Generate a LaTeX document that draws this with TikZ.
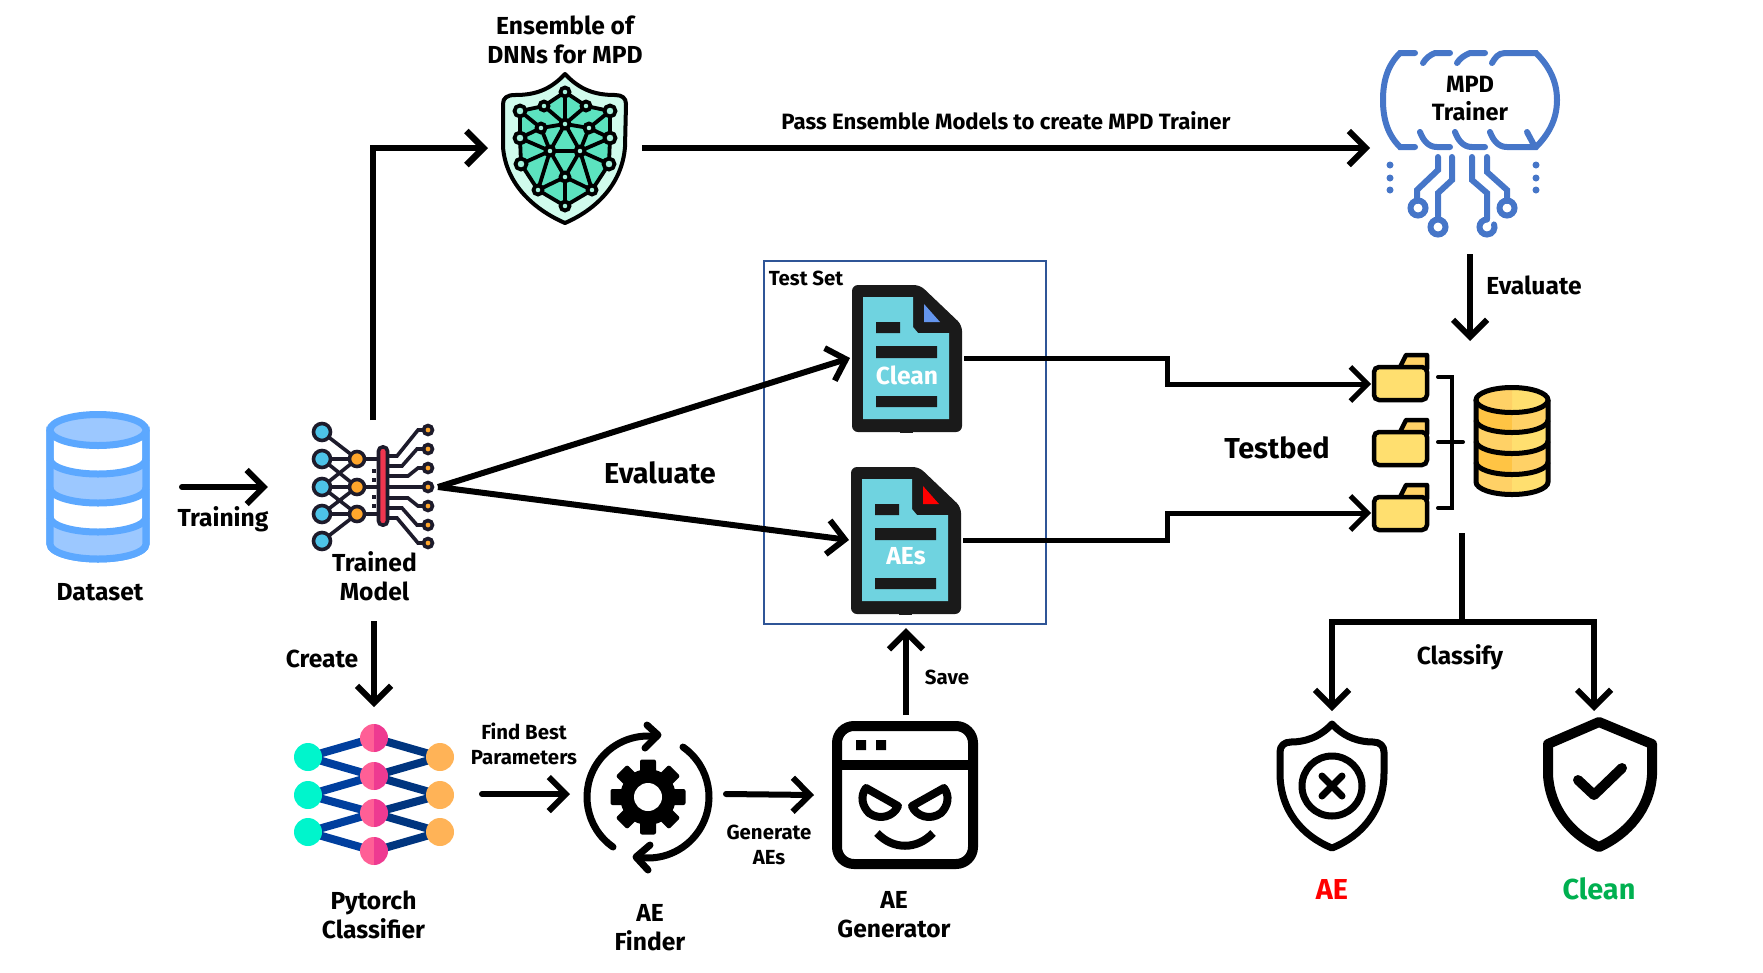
\documentclass[tikz,border=0pt]{standalone}
\usepackage{fontspec}
\setmainfont{Fira Sans}
\usetikzlibrary{arrows.meta}
\definecolor{dbblue}{HTML}{5CA8FF}
\definecolor{dblight}{HTML}{9CC8FF}
\definecolor{netdark}{HTML}{1D1B2B}
\definecolor{netcyan}{HTML}{4DC3E8}
\definecolor{netorange}{HTML}{FFA62B}
\definecolor{netred}{HTML}{F0364F}
\definecolor{ensteal}{HTML}{5CE3BF}
\definecolor{enslight}{HTML}{D0FBEC}
\definecolor{trainblue}{HTML}{4676C8}
\definecolor{docdark}{HTML}{1A1A1A}
\definecolor{doccyan}{HTML}{6FD3E0}
\definecolor{docblue}{HTML}{6495ED}
\definecolor{boxblue}{HTML}{2F5597}
\definecolor{goldA}{HTML}{FFC444}
\definecolor{goldB}{HTML}{FFD166}
\definecolor{goldC}{HTML}{FFDF6F}
\definecolor{clfteal}{HTML}{00F5CC}
\definecolor{clfnavy}{HTML}{003F9E}
\definecolor{clfnavyb}{HTML}{00357F}
\definecolor{clfpink}{HTML}{FF5F96}
\definecolor{clfpinkb}{HTML}{EE3A91}
\definecolor{clforange}{HTML}{FFB357}
\definecolor{cleangreen}{HTML}{00B050}
\tikzset{
  arr/.style={line width=.06cm,-{Straight Barb[length=.17cm,width=.34cm]}},
  iconbox/.style 2 args={inner sep=0,outer sep=0,minimum width=#1*.01cm,minimum height=#2*.01cm},
  lbl/.style={inner sep=0,align=center,font=\bfseries\fontsize{7}{8.2}\selectfont},
  lblsm/.style={inner sep=0,align=center,font=\bfseries\fontsize{5.8}{6.9}\selectfont},
  lbllg/.style={inner sep=0,align=center,font=\bfseries\fontsize{8.2}{9.5}\selectfont},
}
\newcommand\docicon[2]{%
  \begin{scope}[shift={(#1)}]
    \fill[docdark,rounded corners=.06cm] (0,0)--(68,0)--(110,40)--(110,147)--(0,147)--cycle;
    \fill[docdark] (48,146) rectangle (61,148);
    \fill[doccyan] (11,12)--(61,12)--(61,42)--(66,48)--(97,48)--(97,134)--(11,134)--cycle;
    \fill[#2] (72,19)--(72,37)--(88,37)--cycle;
    \fill[docdark] (24,37) rectangle (48,48) (24,61) rectangle (85,73) (24,111) rectangle (85,122);
  \end{scope}}
\newcommand\foldericon[1]{%
  \begin{scope}[shift={(#1)}]
    \draw[line width=.045cm,fill=goldB,line join=round] (27,16)--(34,2)--(55,2)--(55,16)--cycle;
    \draw[line width=.045cm,fill=goldC,rounded corners=.05cm] (2,14) rectangle (55,47);
  \end{scope}}
\begin{document}
\begin{tikzpicture}[x=.01cm,y=-.01cm]
  \useasboundingbox (0,0) rectangle (1763,972);
  % icon boxes, the connectors end on these
  \node[iconbox={168}{152}] (dataset) at (98,487) {};
  \node[iconbox={130}{134}] (trained) at (373,487) {};
  \node[iconbox={154}{150}] (ensemble) at (565,148) {};
  \node[iconbox={200}{212}] (trainer) at (1470,148) {};
  \node[iconbox={114}{148}] (cleandoc) at (907,358) {};
  \node[iconbox={114}{148}] (aesdoc) at (906,540) {};
  \node[draw=boxblue,line width=.02cm,iconbox={282}{363}] (testset) at (905,442.5) {};
  \node[iconbox={216}{174}] (classifier) at (374,794) {};
  \node[iconbox={156}{150}] (finder) at (648,794) {};
  \node[iconbox={184}{160}] (generator) at (906,795) {};
  \node[iconbox={58}{50}] (foldera) at (1400,384) {};
  \node[iconbox={58}{50}] (folderc) at (1400,513) {};
  \node[iconbox={190}{192}] (testbed) at (1462,437) {};
  \node[iconbox={112}{150}] (aeshield) at (1332,786) {};
  \node[iconbox={112}{148}] (cleanshield) at (1594,785) {};
  \coordinate (createstart) at (374,621);
  \coordinate (bendclean) at (1167,358);
  \coordinate (bendaes) at (1167,540);
  \coordinate (split) at (1462,622);

  % dataset
  \draw[dbblue,line width=.07cm,fill=white] (50,430)--(50,544) arc[start angle=180,end angle=0,x radius=48,y radius=15]--(146,430)--cycle;
  \foreach \a/\b in {459/488,517/544}
    \fill[dblight] (50,\a) arc[start angle=180,end angle=0,x radius=48,y radius=15]--(146,\b) arc[start angle=0,end angle=180,x radius=48,y radius=15]--cycle;
  \foreach \a in {459,488,517}
    \draw[dbblue,line width=.07cm] (50,\a) arc[start angle=180,end angle=0,x radius=48,y radius=15];
  \draw[dbblue,line width=.07cm] (50,430)--(50,544) arc[start angle=180,end angle=0,x radius=48,y radius=15]--(146,430);
  \draw[dbblue,line width=.07cm,fill=dblight] (98,430) ellipse [x radius=48,y radius=15.5];

  % trained model
  \begin{scope}[netdark,line width=.036cm]
    \draw (322,432)--(357,459) (322,459)--(357,459) (322,459)--(357,487) (322,487)--(357,459)
      (322,487)--(357,487) (322,487)--(357,514) (322,514)--(357,487) (322,514)--(357,514) (322,541)--(357,514);
    \draw (357,459)--(383,459) (357,487)--(383,487) (357,514)--(383,514);
    \draw (383,456)--(397,456)--(418,430)--(428,430) (383,466)--(402,466)--(417,449)--(428,449)
      (383,476)--(408,476)--(418,468)--(428,468) (383,487)--(428,487)
      (383,498)--(408,498)--(418,506)--(428,506) (383,508)--(402,508)--(417,525)--(428,525)
      (383,518)--(397,518)--(418,543)--(428,543);
    \foreach \y in {432,459,487,514,541} \draw[fill=netcyan] (322,\y) circle (8.5);
    \foreach \y in {459,487,514} \draw[fill=netorange] (357,\y) circle (7.5);
    \foreach \y in {430,449,468,487,506,525,543} \draw[fill=netorange] (428,\y) circle (4.5);
    \draw[fill=netred,rounded corners=.04cm] (378.5,447) rectangle (387.5,525);
    \foreach \y in {469,478,495,504} \fill (372,\y) rectangle +(4,4);
  \end{scope}

  % ensemble shield
  \draw[line width=.04cm,fill=enslight,line join=round] (565,74) .. controls (580,90) and (595,95) .. (615,95)
    .. controls (622,95) and (626,98) .. (626,104) -- (625,147) .. controls (622,185) and (595,210) .. (565,223)
    .. controls (535,210) and (506,185) .. (503,147) -- (503,104) .. controls (503,98) and (507,95) .. (515,95)
    .. controls (535,95) and (550,90) .. (565,74) -- cycle;
  \foreach \n/\x/\y in {a/565/92,b/544/106,c/586/106,d/520/111,e/610/111,f/565/124,g/541/128,h/589/128,i/520/138,j/610/138,k/550/151,l/580/151,m/521/164,n/609/164,o/565/177,p/538/190,q/592/190,r/565/206}
    \coordinate (e\n) at (\x,\y);
  \fill[ensteal] (ea)--(ec)--(ee)--(ej)--(en)--(eq)--(er)--(ep)--(em)--(ei)--(ed)--(eb)--cycle;
  \draw[line width=.038cm] (ea)--(eb) (ea)--(ec) (ea)--(ef) (eb)--(ed) (ec)--(ee) (eb)--(ef) (ec)--(ef) (ed)--(eg) (ee)--(eh)
    (ed)--(ei) (ee)--(ej) (ei)--(eg) (ej)--(eh) (eg)--(ef) (eh)--(ef) (eg)--(ek) (eh)--(el) (ef)--(ek) (ef)--(el) (ei)--(ek) (ej)--(el)
    (ek)--(el) (ek)--(em) (el)--(en) (ek)--(eo) (el)--(eo) (eo)--(ep) (eo)--(eq) (eo)--(er) (ep)--(er) (eq)--(er) (em)--(ei) (en)--(ej)
    (ek)--(ep) (el)--(eq) (em)--(ep) (en)--(eq);
  \foreach \n in {a,b,c,f,g,h,k,l,o,p,q,r} \draw[line width=.038cm,fill=enslight!60!ensteal] (e\n) circle (4.5);
  \foreach \n in {d,e,i,j,m,n} \draw[line width=.038cm,fill=enslight!60!ensteal] (e\n) circle (5.5);

  % mpd trainer
  \begin{scope}[trainblue,line width=.06cm,line cap=round]
    \draw (1415,53)--(1400,53) .. controls (1388,65) and (1383,80) .. (1383,100) .. controls (1383,120) and (1388,135) .. (1400,147)--(1415,147);
    \draw (1450,53)--(1435,53) .. controls (1430,55) and (1426,58) .. (1423,63);
    \draw (1420,132) .. controls (1423,140) and (1428,147) .. (1437,147)--(1450,147);
    \draw (1485,53)--(1470,53) .. controls (1465,55) and (1460,58) .. (1457,63);
    \draw (1455,132) .. controls (1458,140) and (1463,147) .. (1472,147)--(1485,147);
    \draw (1492,63) .. controls (1495,58) and (1498,53) .. (1505,53)--(1536,53) .. controls (1548,65) and (1557,80) .. (1557,100)
      .. controls (1557,120) and (1548,135) .. (1536,147)--(1507,147) .. controls (1498,147) and (1493,140) .. (1490,132);
    \draw (1527,132)--(1535,147);
    \draw (1438,157)--(1438,170)--(1417,190)--(1417,201);
    \draw (1452,157)--(1452,180)--(1438,193)--(1438,219);
    \draw (1472,157)--(1472,180)--(1487,193)--(1487,219);
    \draw (1487,157)--(1487,172)--(1507,190)--(1507,201);
    \draw (1418,208) circle (7.5) (1438,227) circle (7.5) (1507,208) circle (7.5);
    \draw (1487,219.5) arc[start angle=270,end angle=-20,radius=7.5];
    \foreach \y in {165,178,190} \fill (1390,\y) circle (3.5) (1536,\y) circle (3.5);
  \end{scope}

  % test set
  \docicon{852,285}{docblue}
  \docicon{851,467}{red}

  % testbed
  \foldericon{1372,353}
  \foldericon{1372,418}
  \foldericon{1372,483}
  \draw[line width=.04cm,line cap=round] (1438,377)--(1452,377)--(1452,508)--(1438,508) (1438,442)--(1463,442);
  \def\rx{36}\def\ry{12.5}
  \foreach \a/\b/\cl/\cr in {400/420/goldA/goldB,420/441/goldB/goldC,441/462/goldA/goldB,462/482/goldB/goldC} {
    \fill[\cl] (1476,\a) arc[start angle=180,end angle=90,x radius=\rx,y radius=\ry]--(1512,\b+\ry) arc[start angle=90,end angle=180,x radius=\rx,y radius=\ry]--cycle;
    \fill[\cr] (1548,\a) arc[start angle=0,end angle=90,x radius=\rx,y radius=\ry]--(1512,\b+\ry) arc[start angle=90,end angle=0,x radius=\rx,y radius=\ry]--cycle;
  }
  \foreach \a in {420,441,462}
    \draw[line width=.05cm] (1476,\a) arc[start angle=180,end angle=0,x radius=\rx,y radius=\ry];
  \begin{scope}
    \clip (1512,380) rectangle (1560,420);
    \fill[goldC] (1512,400) ellipse [x radius=\rx,y radius=\ry];
  \end{scope}
  \begin{scope}
    \clip (1470,380) rectangle (1512,420);
    \fill[goldB] (1512,400) ellipse [x radius=\rx,y radius=\ry];
  \end{scope}
  \draw[line width=.05cm] (1512,400) ellipse [x radius=\rx,y radius=\ry];
  \draw[line width=.05cm] (1476,400)--(1476,482) arc[start angle=180,end angle=0,x radius=\rx,y radius=\ry]--(1548,400);

  % classifier
  \foreach \y/\m/\n in {757/738/776,795/776/813,832/813/851} {
    \draw[clfnavy,line width=.08cm] (308,\y)--(374,\m) (308,\y)--(374,\n);
    \draw[clfnavyb,line width=.08cm] (440,\y)--(374,\m) (440,\y)--(374,\n);
    \fill[clfteal] (308,\y) circle (14);
    \fill[clforange] (440,\y) circle (14);
  }
  \foreach \m in {738,776,813,851} {
    \fill[clfpink] (374,\m-14) arc[start angle=270,end angle=90,radius=14]--cycle;
    \fill[clfpinkb] (374,\m-14) arc[start angle=-90,end angle=90,radius=14]--cycle;
  }

  % finder
  \draw[line width=.07cm,line cap=round] (648,797) ++(125:61) arc[start angle=125,end angle=278,radius=61];
  \draw[line width=.07cm,line cap=round] (648,797) ++(-55:61) arc[start angle=-55,end angle=100,radius=61];
  \draw[line width=.07cm,line cap=round,line join=round] (647,725)--(658,735)--(645,748) (650,845)--(636,857)--(648,870);
  \fill (648,797) circle (28);
  \foreach \a in {0,45,90,135}
    \fill[rotate around={\a:(648,797)},rounded corners=.02cm] (640,759.5) rectangle (656,834.5);
  \fill[white] (648,797) circle (14);

  % generator
  \draw[line width=.1cm,rounded corners=.17cm] (837,726) rectangle (973,864);
  \draw[line width=.1cm] (837,765)--(973,765);
  \fill (856,740) rectangle (866,750) (876,740) rectangle (886,750);
  \draw[line width=.08cm,line join=round] (866,788)--(898,806) .. controls (894,816) and (880,821) .. (869,813) .. controls (862,806) and (860,796) .. (866,788)--cycle;
  \draw[line width=.08cm,line join=round] (944,788)--(912,806) .. controls (916,816) and (930,821) .. (941,813) .. controls (948,806) and (950,796) .. (944,788)--cycle;
  \draw[line width=.08cm] (877,833) .. controls (893,850) and (917,850) .. (933,833);

  % shields
  \draw[line width=.07cm,line join=round] (1332,724) .. controls (1345,738) and (1360,742) .. (1373,742)
    .. controls (1380,742) and (1384,746) .. (1384,752) -- (1384,773) .. controls (1384,810) and (1362,836) .. (1332,848)
    .. controls (1302,836) and (1280,810) .. (1280,773) -- (1280,752) .. controls (1280,746) and (1284,742) .. (1291,742)
    .. controls (1304,742) and (1319,738) .. (1332,724) -- cycle;
  \draw[line width=.07cm] (1332,786) circle (30);
  \draw[line width=.07cm,line cap=round] (1322,776)--(1342,796) (1342,776)--(1322,796);
  \draw[line width=.1cm,line join=round] (1599,722)--(1652,744)--(1652,775) .. controls (1650,808) and (1628,834) .. (1599,847)
    .. controls (1570,834) and (1550,808) .. (1548,775)--(1548,744)--cycle;
  \draw[line width=.1cm,line cap=round,line join=round] (1578,780)--(1594,795)--(1622,768);

  % connectors
  \draw[arr,line cap=round,shorten >=.4cm] (dataset.east)--(trained.west);
  \draw[arr,line width=.065cm] (trained.north) |- (ensemble.west);
  \draw[arr] (ensemble.east)--(trainer.west);
  \draw[arr] (trainer.south)--(trainer.south |- testbed.north);
  \draw[arr] (trained.east)--(cleandoc.west);
  \draw[arr] (trained.east)--(aesdoc.west);
  \draw[arr,line width=.05cm] (cleandoc.east)--(bendclean) |- (foldera.west);
  \draw[arr,line width=.05cm] (aesdoc.east)--(bendaes) |- (folderc.west);
  \draw[arr] (createstart)--(classifier.north);
  \draw[arr,line cap=round] (classifier.east)--(finder.west);
  \draw[arr,line cap=round] (finder.east)--(generator.west);
  \draw[arr,shorten >=.04cm] (generator.north)--(generator.north |- testset.south);
  \draw[line width=.06cm] (testbed.south)--(split);
  \draw[arr,line width=.06cm] (split) -| (aeshield.north);
  \draw[arr,line width=.06cm] (split) -| (cleanshield.north);

  % labels
  \node[lbl] (lbldataset) at (100,592) {Dataset};
  \node[lbl] (lbltraining) at (223,519) {Training};
  \node[lbl] (lbltrained) at (374.5,576) {Trained\\Model};
  \node[lbl] (lblensemble) at (565,40) {Ensemble of\\DNNs for MPD};
  \node[lblsm,font=\bfseries\fontsize{6.3}{7}\selectfont] (lblpass) at (1006,121) {Pass Ensemble Models to create MPD Trainer};
  \node[lbl,font=\bfseries\fontsize{6.7}{7.8}\selectfont] (lblmpd) at (1470,98.5) {MPD\\Trainer};
  \node[lbl] (lblevalright) at (1534,285) {Evaluate};
  \node[lblsm] (lbltestset) at (806,278) {Test Set};
  \node[lbllg] (lblevaluate) at (660,473) {Evaluate};
  \node[lbl,white] (lblclean) at (907,375) {Clean};
  \node[lbl,white] (lblaes) at (906,556) {AEs};
  \node[lbllg] (lbltestbed) at (1277,448) {Testbed};
  \node[lbl] (lblclassify) at (1460,657) {Classify};
  \node[lbl] (lblcreate) at (322,659) {Create};
  \node[lbl] (lblpytorch) at (373.5,915) {Pytorch\\Classifier};
  \node[lblsm] (lblfind) at (524,744) {Find Best\\Parameters};
  \node[lbl] (lblfinder) at (650,928) {AE\\Finder};
  \node[lblsm] (lblgenerate) at (769,845) {Generate\\AEs};
  \node[lbl] (lblgenerator) at (894,915) {AE\\Generator};
  \node[lblsm] (lblsave) at (947,677) {Save};
  \node[lbllg,red] (lblae) at (1332,889) {AE};
  \node[lbllg,cleangreen] (lblcleanout) at (1599,889) {Clean};
\end{tikzpicture}
\end{document}
